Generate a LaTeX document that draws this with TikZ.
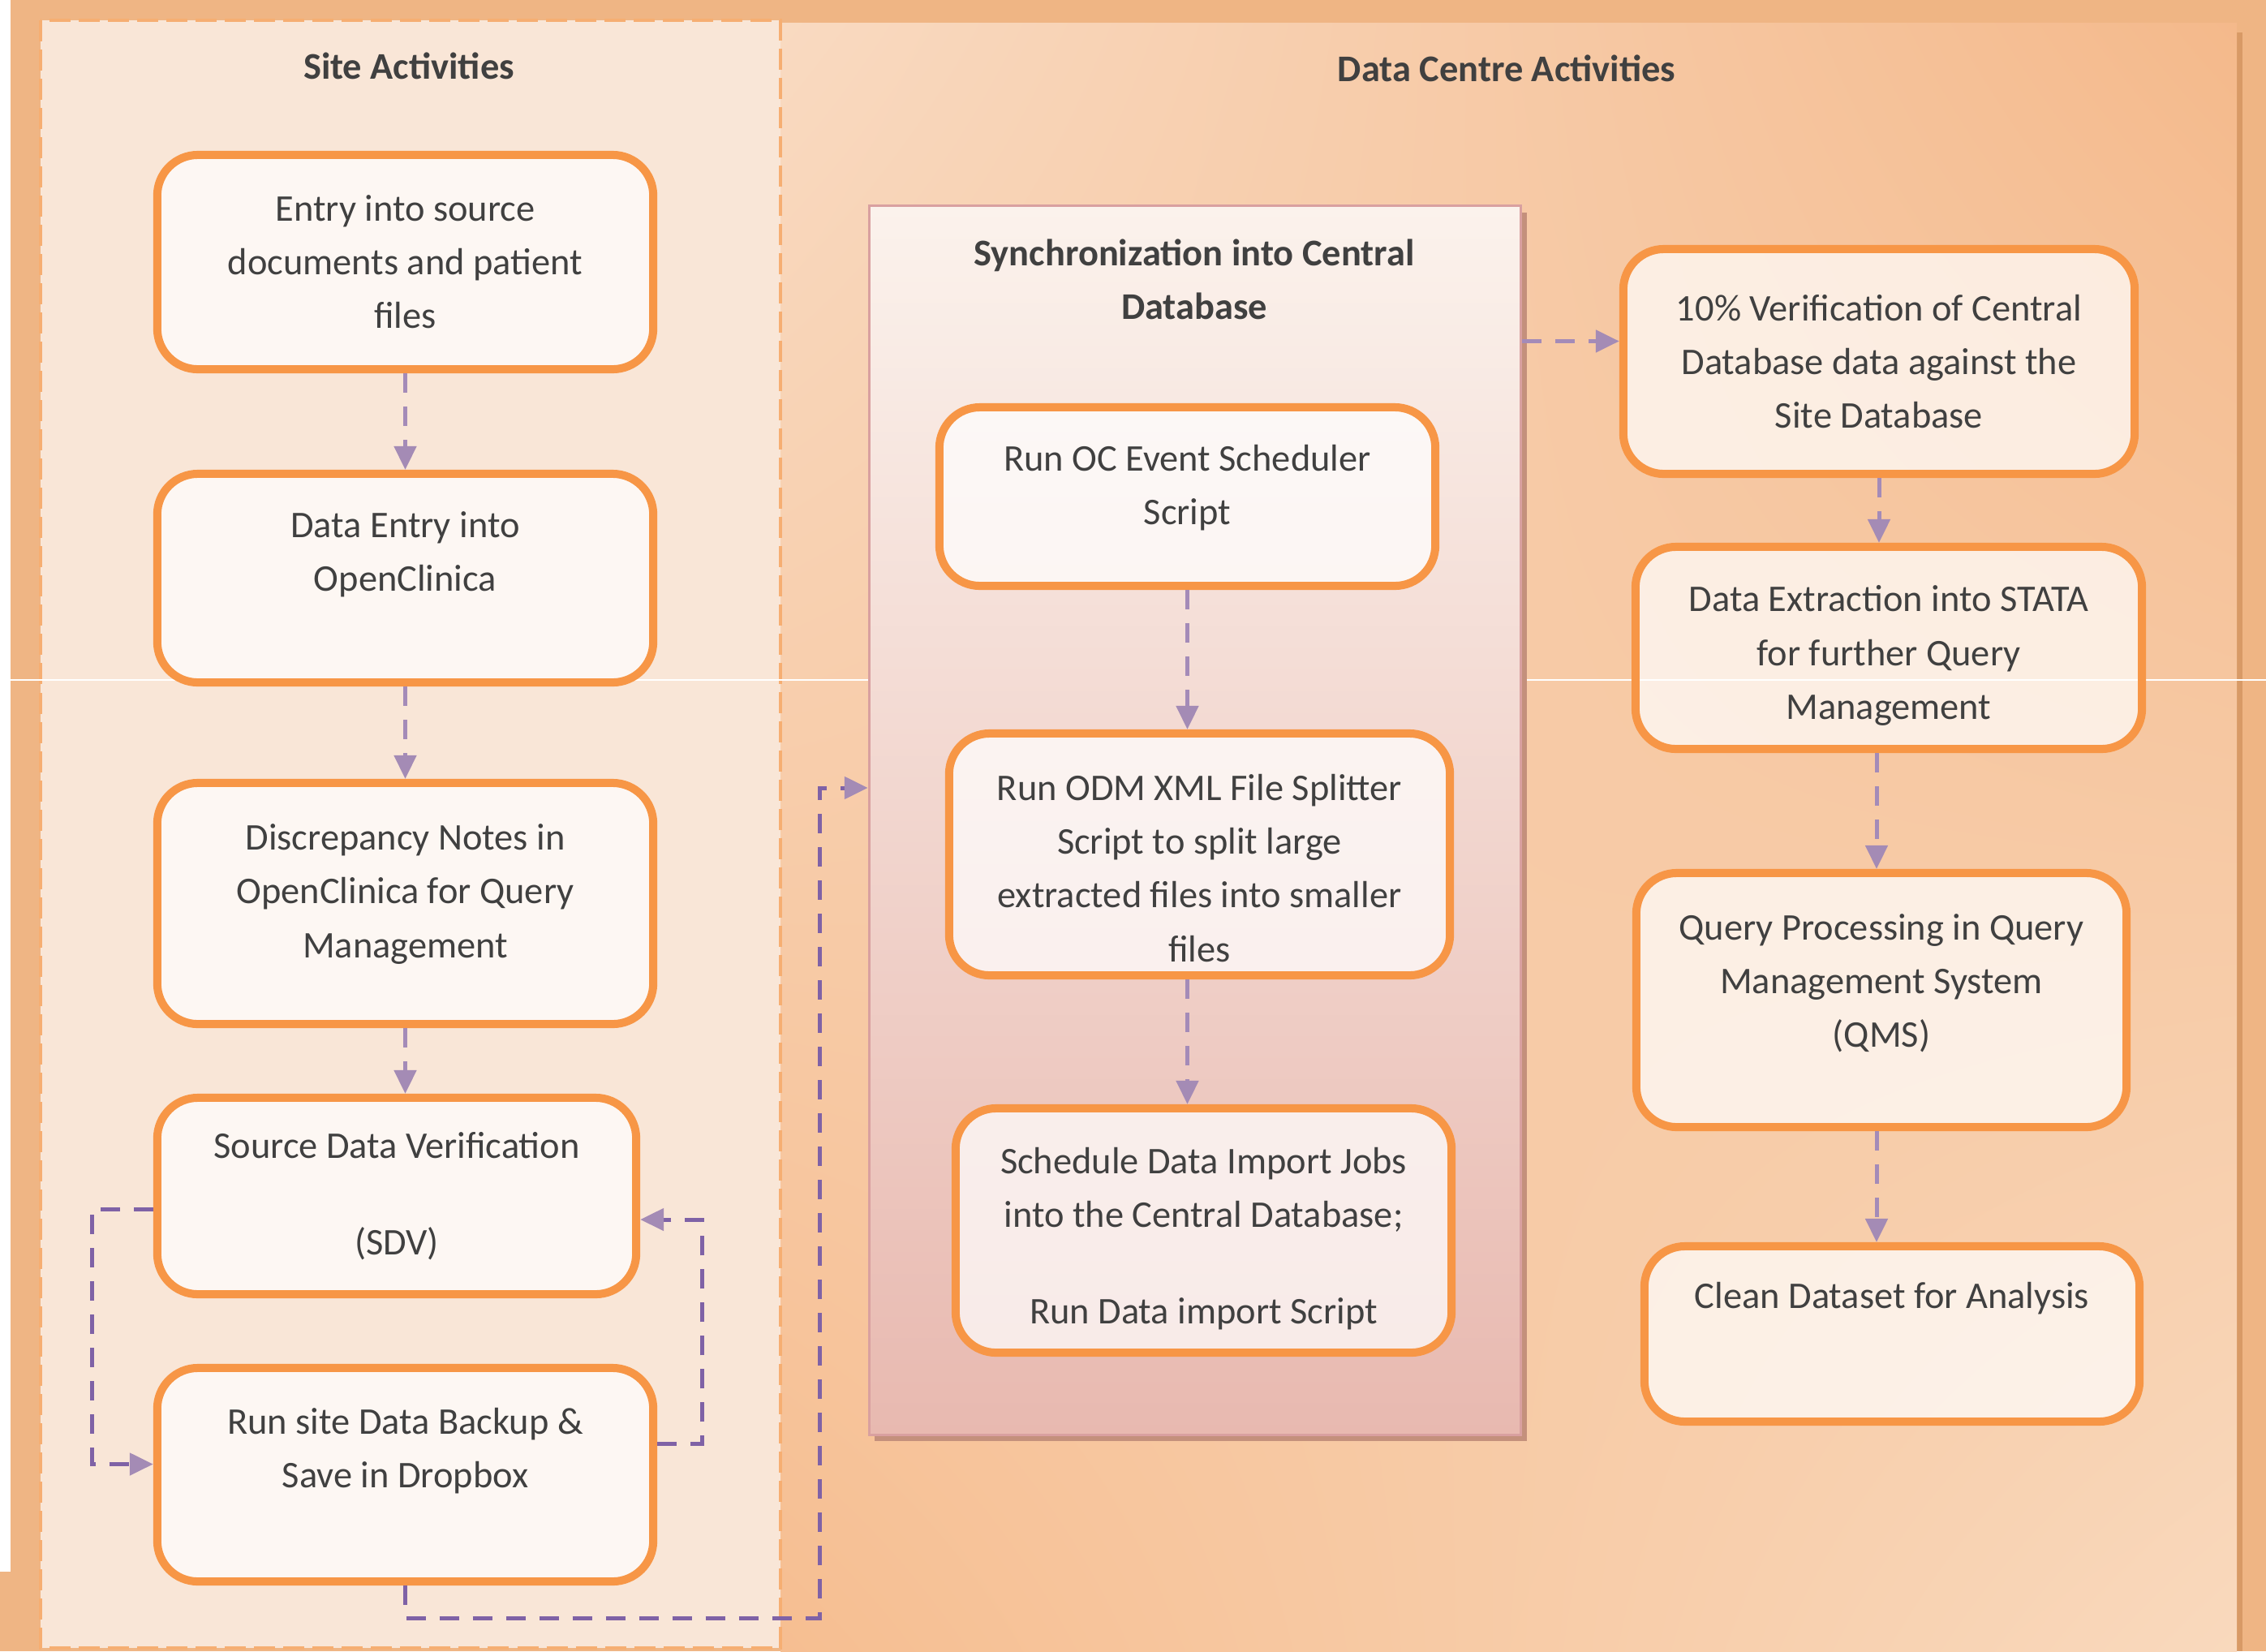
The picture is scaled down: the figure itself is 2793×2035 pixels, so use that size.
\documentclass[tikz,border=0pt]{standalone}
\usepackage{fontspec}
\setmainfont{Carlito}
\usetikzlibrary{arrows.meta,shadows,shadings}
\definecolor{cOut}{HTML}{EFB584}
\definecolor{cEdge}{HTML}{D89A66}
\definecolor{cUL}{HTML}{F9DAC1}
\definecolor{cUR}{HTML}{F4B98B}
\definecolor{cLL}{HTML}{F6BE91}
\definecolor{cLR}{HTML}{F9D9BD}
\definecolor{cSite}{HTML}{F9E6D7}
\definecolor{cSiteLn}{HTML}{F6AE72}
\definecolor{cBox}{HTML}{F79646}
\definecolor{ink}{HTML}{404040}
\definecolor{cDark}{HTML}{7F62A6}
\definecolor{cLight}{HTML}{A48BB8}
\definecolor{cTip}{HTML}{A48BB5}
\definecolor{cSyncLn}{HTML}{D9A0A0}
\definecolor{cSyncTop}{HTML}{FBF2EC}
\definecolor{cSyncMid}{HTML}{F3DAD0}
\definecolor{cSyncBot}{HTML}{E8B9B0}
\definecolor{cShadow}{HTML}{C4907C}

\begin{document}
\begin{tikzpicture}[x=0.01cm, y=-0.01cm, font=\fontsize{13.2}{18.8}\selectfont, text=ink,
  box/.style={draw=cBox, line width=0.1cm, rounded corners=0.5cm, fill=white, fill opacity=0.7, text opacity=1, align=center, inner sep=0pt},
  hd/.style={font=\fontsize{13.2}{18.8}\selectfont\bfseries, align=center, inner sep=0pt},
  fl/.style={cLight, line width=0.05cm, dash pattern=on 0.24cm off 0.17cm, -{Triangle[length=0.29cm, width=0.27cm, color=cTip]}},
  fld/.style={fl, cDark}]
\useasboundingbox (0,0) rectangle (2793,2035);
% background and the two lanes
\fill[cOut] (0,0) rectangle (2793,2035);
\fill[white] (0,0) rectangle (13,1937);
\fill[cEdge] (962,40) rectangle (2764,2035);
\shade[shading=bilinear interpolation, upper left=cUL, upper right=cUR, lower left=cLL, lower right=cLR] (962,28) rectangle (2757,2035);
\fill[cSite] (50,25) rectangle (962,2031);
\draw[cSiteLn, line width=0.04cm, dash pattern=on 0.26cm off 0.1cm] (50,25) rectangle (962,2031);
\draw[white, line width=0.025cm] (13,838) -- (2793,838);

\node[hd, anchor=base] (siteT) at (504,97) {Site Activities};
\node[hd, anchor=base] (dcT) at (1857,100) {Data Centre Activities};

% synchronization panel
\node[draw=cSyncLn, line width=0.03cm, top color=cSyncTop, middle color=cSyncMid, bottom color=cSyncBot,
  minimum width=8.03cm, minimum height=15.14cm, inner sep=0pt,
  drop shadow={shadow xshift=0.07cm, shadow yshift=-0.08cm, fill=cShadow, opacity=1}] (sync) at (1473,1011) {};
\node[hd, anchor=north] (syncT) at (1472,294) {Synchronization into Central\\Database};

% site boxes
\node[box, minimum width=6.11cm, minimum height=2.64cm] (L1) at (499.5,323) {Entry into source\\documents and patient\\files};
\node[box, minimum width=6.11cm, minimum height=2.57cm] (L2) at (499.5,712.5) {Data Entry into\\OpenClinica\\\mbox{}};
\node[box, minimum width=6.11cm, minimum height=2.97cm] (L3) at (499.5,1113.5) {Discrepancy Notes in\\OpenClinica for Query\\Management\\[-0.35cm]\mbox{}};
\node[box, minimum width=5.90cm, minimum height=2.42cm] (L4) at (489,1474) {Source Data Verification\\[0.53cm](SDV)};
\node[box, minimum width=6.11cm, minimum height=2.63cm] (L5) at (499.5,1817.5) {Run site Data Backup \&\\Save in Dropbox\\\mbox{}};

% data centre boxes
\node[box, minimum width=6.11cm, minimum height=2.20cm] (Sa) at (1463.5,612) {Run OC Event Scheduler\\Script\\[-0.37cm]\mbox{}};
\node[box, minimum width=6.17cm, minimum height=2.98cm] (Sb) at (1478.5,1053) {\mbox{}\\[0cm]Run ODM XML File Splitter\\Script to split large\\extracted files into smaller\\files};
\node[box, minimum width=6.11cm, minimum height=3.01cm] (Sc) at (1483.5,1516.5) {\mbox{}\\[-0.13cm]Schedule Data Import Jobs\\into the Central Database;\\[0.53cm]Run Data import Script};
\node[box, minimum width=6.30cm, minimum height=2.77cm] (R1) at (2316,445.5) {10\% Verification of Central\\Database data against the\\Site Database};
\node[box, minimum width=6.24cm, minimum height=2.49cm] (R2) at (2328,798.5) {\mbox{}\\[-0.15cm]Data Extraction into STATA\\for further Query\\Management};
\node[box, minimum width=6.04cm, minimum height=3.13cm] (R3) at (2319,1232.5) {Query Processing in Query\\Management System\\(QMS)\\[-0.18cm]\mbox{}};
\node[box, minimum width=6.10cm, minimum height=2.16cm] (R4) at (2332,1644) {Clean Dataset for Analysis\\[0.29cm]\mbox{}};

% connectors
\draw[fl] (L1) -- (L2);
\draw[fl] (L2) -- (L3);
\draw[fl] (L3.south) -- (L3.south |- L4.north);
\draw[fld] ([yshift=-0.16cm]L4.west) -- ++(-75,0) |- ([yshift=0.13cm]L5.west);
\draw[fld] ([yshift=0.38cm]L5.east) -- ++(55,0) |- ([yshift=-0.29cm]L4.east);
\draw[fld] (L5.south) -- ++(0,40) -- ++(510.5,0) |- ([yshift=0.4cm]sync.west);
\draw[fl] (Sa.south) -- (Sa.south |- Sb.north);
\draw[fl] (Sa.south |- Sb.south) -- (Sa.south |- Sc.north);
\draw[fl] ([yshift=0.25cm]R1.west -| sync.east) -- ([yshift=0.25cm]R1.west);
\draw[fl] (R1.south) -- (R1.south |- R2.north);
\draw[fl] ([xshift=-0.15cm]R2.south) -- ([xshift=-0.15cm]R2.south |- R3.north);
\draw[fl] ([xshift=-0.06cm]R3.south) -- ([xshift=-0.06cm]R3.south |- R4.north);
\end{tikzpicture}
\end{document}
